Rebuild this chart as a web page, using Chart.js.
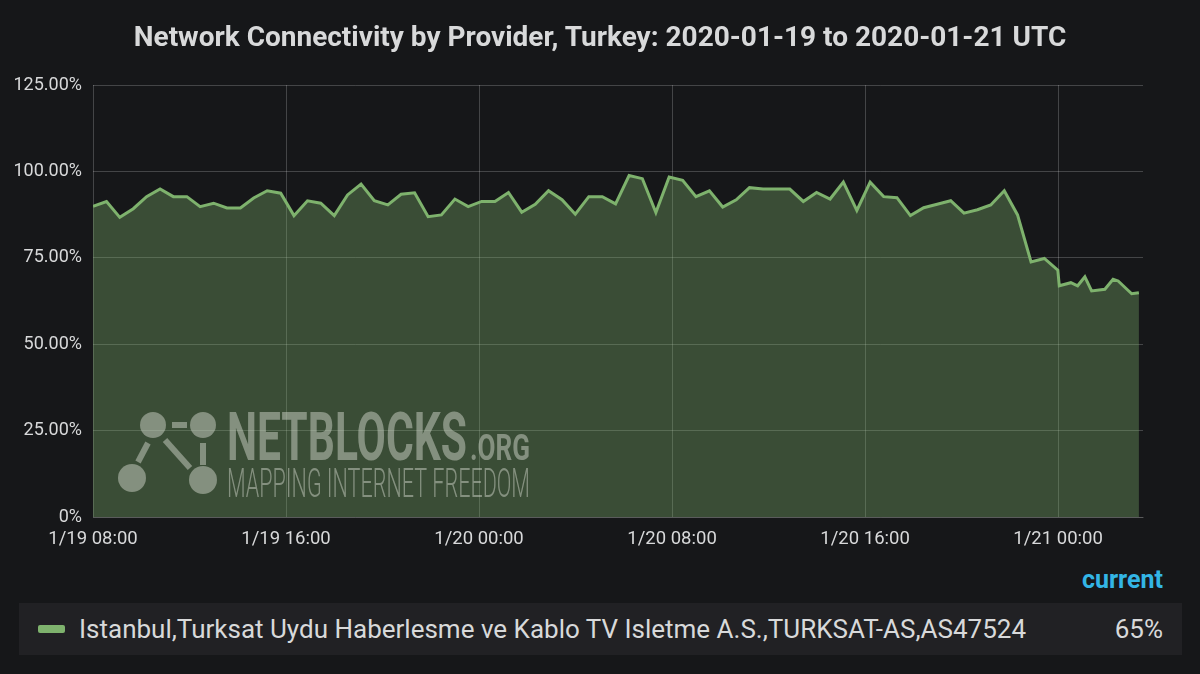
<!DOCTYPE html>
<html>
<head>
<meta charset="utf-8">
<title>Network Connectivity by Provider, Turkey</title>
<script src="https://cdn.jsdelivr.net/npm/chart.js@4.4.1/dist/chart.umd.min.js"></script>
<style>
    html, body { margin: 0; padding: 0; background: #161719; }
    body { width: 1200px; height: 674px; position: relative; overflow: hidden; font-family: Roboto, "Helvetica Neue", Arial, sans-serif; }
    #chart { position: absolute; left: 0; top: 0; }
    .chart-title { position: absolute; left: 0; top: 20px; width: 1200px; text-align: center; color: #d8d9da; font-weight: bold; font-size: 28px; line-height: 34px; white-space: nowrap; }
    .legend-head { position: absolute; right: 37px; top: 565px; color: #33b5e5; font-weight: bold; font-size: 25px; }
    .legend-row { position: absolute; left: 19px; top: 603px; width: 1163px; height: 52px; background: #212124; color: #d8d9da; font-size: 26px; }
    .legend-icon { position: absolute; left: 19px; top: 22px; width: 27px; height: 8px; background: #7eb26d; border-radius: 2px; }
    .legend-label { position: absolute; left: 60px; top: 0; line-height: 52px; white-space: nowrap; }
    .legend-value { position: absolute; right: 19px; top: 0; line-height: 52px; }
</style>
</head>
<body>
<canvas id="chart" width="1200" height="560"></canvas>
<div class="chart-title" id="chart-title"></div>
<div class="legend-head">current</div>
<div class="legend-row">
    <span class="legend-icon"></span>
    <span class="legend-label" id="legend-label"></span>
    <span class="legend-value" id="legend-value"></span>
</div>
<script>
// hours since 1/19 08:00 UTC
const sampleHours = [
    0, 0.56, 1.11, 1.67, 2.22, 2.78, 3.33, 3.89, 4.44, 5.00,
    5.55, 6.11, 6.66, 7.22, 7.78, 8.33, 8.89, 9.44, 10.00, 10.55,
    11.11, 11.66, 12.22, 12.77, 13.33, 13.89, 14.44, 15.00, 15.55, 16.11,
    16.66, 17.22, 17.77, 18.33, 18.88, 19.44, 19.99, 20.55, 21.11, 21.66,
    22.22, 22.77, 23.33, 23.88, 24.44, 24.99, 25.55, 26.10, 26.66, 27.21,
    27.77, 28.33, 28.88, 29.44, 29.99, 30.55, 31.10, 31.66, 32.21, 32.77,
    33.32, 33.88, 34.43, 34.99, 35.55, 36.10, 36.66, 37.21, 37.77, 38.32,
    38.88, 39.43, 39.99, 40.05, 40.53, 40.81, 41.11, 41.39, 41.94, 42.28,
    42.49, 43.05, 43.35
];
const connectivity = [
    89.9, 91.3, 86.7, 89.2, 92.7, 94.9, 92.7, 92.7, 89.8, 90.8,
    89.4, 89.4, 92.3, 94.4, 93.7, 87.2, 91.5, 90.8, 87.2, 93.2,
    96.3, 91.5, 90.3, 93.4, 93.8, 86.9, 87.4, 92.0, 89.8, 91.3,
    91.3, 93.9, 88.2, 90.5, 94.4, 91.8, 87.6, 92.7, 92.7, 90.6,
    98.8, 97.9, 88.1, 98.4, 97.4, 92.7, 94.4, 89.7, 91.8, 95.3,
    94.9, 94.9, 94.9, 91.3, 93.9, 92.0, 96.9, 88.7, 96.9, 92.7,
    92.4, 87.2, 89.5, 90.5, 91.5, 87.9, 88.9, 90.3, 94.4, 87.4,
    73.8, 74.8, 71.4, 66.9, 67.8, 66.9, 69.5, 65.4, 65.9, 68.8,
    68.3, 64.6, 64.9
];
const xTickHours = [0, 8, 16, 24, 32, 40];
const xTickLabels = ['1/19 08:00', '1/19 16:00', '1/20 00:00', '1/20 08:00', '1/20 16:00', '1/21 00:00'];
const yTickValues = [0, 25, 50, 75, 100, 125];
const seriesName = 'Istanbul,Turksat Uydu Haberlesme ve Kablo TV Isletme A.S.,TURKSAT-AS,AS47524';
const chartTitle = 'Network Connectivity by Provider, Turkey: 2020-01-19 to 2020-01-21 UTC';

const textColor = '#d8d9da';
const gridColor = 'rgba(255,255,255,0.2)';

// netblocks logo drawn over the plot, offsets from bottom-left corner of the chart area
const watermark = {
    id: 'watermark',
    afterDatasetsDraw(chart) {
        const { ctx, chartArea } = chart;
        const ox = chartArea.left, oy = chartArea.bottom;
        const col = 'rgba(205,212,200,0.5)';
        ctx.save();
        ctx.fillStyle = col;
        ctx.strokeStyle = col;
        [[60, -92, 13], [110, -92, 13], [39, -39, 14], [110, -37, 14]].forEach(([x, y, r]) => {
            ctx.beginPath();
            ctx.arc(ox + x, oy + y, r, 0, Math.PI * 2);
            ctx.fill();
        });
        ctx.fillRect(ox + 79, oy - 95, 15, 6);
        ctx.lineWidth = 6;
        [[55, -74, 45, -55], [72, -77, 97, -49], [110, -74, 110, -52]].forEach(([x1, y1, x2, y2]) => {
            ctx.beginPath();
            ctx.moveTo(ox + x1, oy + y1);
            ctx.lineTo(ox + x2, oy + y2);
            ctx.stroke();
        });
        const fitText = (text, font, x, y, w) => {
            ctx.font = font;
            const m = ctx.measureText(text).width;
            ctx.save();
            ctx.translate(ox + x, oy + y);
            ctx.scale(w / m, 1);
            ctx.fillText(text, 0, 0);
            ctx.restore();
        };
        ctx.textBaseline = 'alphabetic';
        fitText('NETBLOCKS', 'bold 67px Roboto', 134, -57, 240);
        fitText('.ORG', 'bold 36px Roboto', 377, -57, 60);
        fitText('MAPPING INTERNET FREEDOM', '300 41px Roboto', 134, -20, 303);
        ctx.restore();
    }
};

new Chart(document.getElementById('chart'), {
    type: 'line',
    data: {
        datasets: [{
            label: seriesName,
            data: sampleHours.map((h, i) => ({ x: h, y: connectivity[i] })),
            borderColor: '#7eb26d',
            backgroundColor: 'rgba(126,178,109,0.35)',
            borderWidth: 3,
            fill: 'origin',
            pointRadius: 0,
            tension: 0
        }]
    },
    options: {
        responsive: false,
        animation: false,
        layout: { padding: { left: 0, right: 57, top: 85, bottom: 0 } },
        plugins: {
            legend: { display: false },
            tooltip: { enabled: false },
            title: { display: false }
        },
        scales: {
            x: {
                type: 'linear',
                min: 0,
                max: 43.52,
                afterBuildTicks: s => { s.ticks = xTickHours.map(v => ({ value: v })); },
                afterFit: s => { s.height = 43; },
                ticks: {
                    color: textColor,
                    font: { family: 'Roboto', size: 18.5 },
                    padding: 11,
                    maxRotation: 0,
                    callback: v => xTickLabels[xTickHours.indexOf(v)]
                },
                grid: { color: gridColor, drawTicks: false },
                border: { display: true, color: 'rgba(255,255,255,0.12)' }
            },
            y: {
                min: 0,
                max: 125,
                afterBuildTicks: s => { s.ticks = yTickValues.map(v => ({ value: v })); },
                afterFit: s => { s.width = 93; },
                ticks: {
                    color: textColor,
                    font: { family: 'Roboto', size: 18 },
                    padding: 11,
                    callback: v => v === 0 ? '0%' : v.toFixed(2) + '%'
                },
                grid: { color: gridColor, drawTicks: false },
                border: { display: false }
            }
        }
    },
    plugins: [watermark]
});

document.getElementById('chart-title').innerText = chartTitle;
document.getElementById('legend-label').innerText = seriesName;
document.getElementById('legend-value').innerText = Math.round(connectivity[connectivity.length - 1]) + '%';
</script>
</body>
</html>
